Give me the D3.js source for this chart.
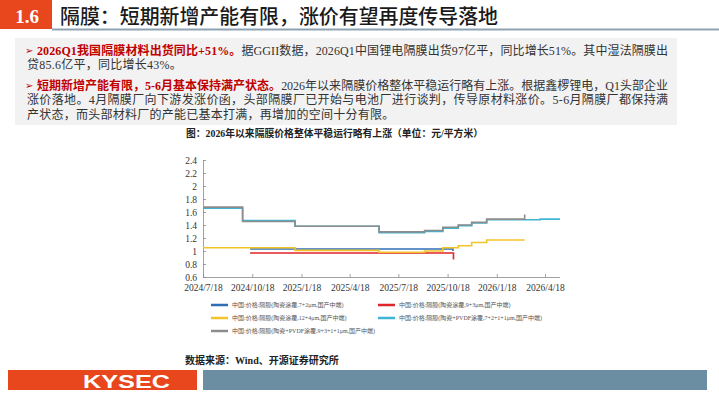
<!DOCTYPE html>
<html><head><meta charset="utf-8">
<script src="https://cdn.jsdelivr.net/npm/d3@7/dist/d3.min.js"></script>
<style>
html,body{margin:0;padding:0;background:#fff;}
svg{display:block;}
</style></head>
<body>
<svg id="c" width="719" height="405"></svg>
<script>
// ---------- data ----------
const yTicks = [0.6, 0.8, 1, 1.2, 1.4, 1.6, 1.8, 2, 2.2, 2.4];
const xTickDates = ["2024-07-18","2024-10-18","2025-01-18","2025-04-18","2025-07-18","2025-10-18","2026-01-18","2026-04-18"];
const xTickLabels = ["2024/7/18","2024/10/18","2025/1/18","2025/4/18","2025/7/18","2025/10/18","2026/1/18","2026/4/18"];
const xDomain = ["2024-07-18","2026-05-16"];

const seriesNames = [
  "中国:价格:隔膜(陶瓷涂覆,7+2μm,国产中端)",
  "中国:价格:隔膜(陶瓷涂覆,9+3μm,国产中端)",
  "中国:价格:隔膜(陶瓷涂覆,12+4μm,国产中端)",
  "中国:价格:隔膜(陶瓷+PVDF涂覆,7+2+1+1μm,国产中端)",
  "中国:价格:隔膜(陶瓷+PVDF涂覆,9+3+1+1μm,国产中端)"
];
const seriesColors = ["#2f6fb6","#e0262b","#f3c428","#3fb5d6","#8c8c8c"];

const c72Dates = ["2024-10-14","2025-10-28"];
const c72Values = [1.03, 1.00];
const c93Dates = ["2024-10-14","2025-10-29"];
const c93Values = [0.97, 0.87];
const c124Dates = ["2024-07-18","2025-01-06","2025-06-12","2025-09-05","2025-10-09","2025-11-07","2025-12-02","2025-12-30","2026-03-11"];
const c124Values = [1.05, 1.01, 0.98, 1.00, 1.05, 1.08, 1.13, 1.17, 1.17];
const p7211Dates = ["2024-07-18","2024-09-30","2025-01-06","2025-06-12","2025-09-05","2025-10-09","2025-11-07","2025-12-02","2025-12-30","2026-04-09","2026-05-16"];
const p7211Values = [1.66, 1.47, 1.38, 1.28, 1.30, 1.35, 1.39, 1.43, 1.48, 1.49, 1.49];
const p9311Dates = ["2024-07-18","2024-09-30","2025-01-06","2025-06-12","2025-09-05","2025-10-09","2025-11-07","2025-12-02","2025-12-30","2026-03-11"];
const p9311Values = [1.675, 1.455, 1.38, 1.295, 1.315, 1.365, 1.40, 1.44, 1.49, 1.56];

// ---------- text ----------
const titleNum = "1.6";
const titleText = "隔膜：短期新增产能有限，涨价有望再度传导落地";
const chartTitle = "图：2026年以来隔膜价格整体平稳运行略有上涨（单位：元/平方米）";
const sourceText = "数据来源：Wind、开源证券研究所";

const svg = d3.select("#c");
const CJK = "'Liberation Serif','Noto Sans CJK SC',serif";

// header
svg.append("rect").attr("x",0).attr("y",0).attr("width",52).attr("height",29).attr("fill","#e8461c");
svg.append("text").attr("x",27).attr("y",22.5).attr("text-anchor","middle")
  .attr("font-family","'Liberation Serif',serif").attr("font-weight","bold").attr("font-size",19)
  .attr("fill","#fff").text(titleNum);
svg.append("text").attr("x",60).attr("y",23.5)
  .attr("font-family","'Noto Sans CJK SC',sans-serif").attr("font-weight",500).attr("font-size",20)
  .attr("fill","#1a1a1a").attr("textLength",438).attr("lengthAdjust","spacingAndGlyphs").text(titleText);
svg.append("rect").attr("x",52).attr("y",28.5).attr("width",667).attr("height",2).attr("fill","#8da3b3");

// gray box
svg.append("rect").attr("x",15).attr("y",38).attr("width",662).attr("height",87).attr("fill","#f2f2f2");

const red = "#c00000", body = "#333";
const lines = [
  {y:50.5, bullet:true, x:37, len:631, parts:[["2026Q1我国隔膜材料出货同比+51%。",true],["据GGII数据，2026Q1中国锂电隔膜出货97亿平，同比增长51%。其中湿法隔膜出",false]]},
  {y:64.5, bullet:false, x:27, len:null, parts:[["贷85.6亿平，同比增长43%。",false]]},
  {y:85.5, bullet:true, x:37, len:631, parts:[["短期新增产能有限，5-6月基本保持满产状态。",true],["2026年以来隔膜价格整体平稳运行略有上涨。根据鑫椤锂电，Q1头部企业",false]]},
  {y:100, bullet:false, x:27, len:641, parts:[["涨价落地。4月隔膜厂向下游发涨价函，头部隔膜厂已开始与电池厂进行谈判，传导原材料涨价。5-6月隔膜厂都保持满",false]]},
  {y:114.5, bullet:false, x:27, len:null, parts:[["产状态，而头部材料厂的产能已基本打满，再增加的空间十分有限。",false]]}
];
lines.forEach(l => {
  if (l.bullet) {
    svg.append("text").attr("x",25).attr("y",l.y).attr("dominant-baseline","central")
      .attr("font-family","'DejaVu Sans',sans-serif").attr("font-size",10).attr("fill",red).text("➢");
  }
  const t = svg.append("text").attr("x",l.x).attr("y",l.y).attr("dominant-baseline","central")
    .attr("font-family",CJK).attr("font-size",12).attr("fill",body);
  if (l.len) t.attr("textLength",l.len).attr("lengthAdjust","spacing");
  else t.attr("letter-spacing",0.25);
  l.parts.forEach(p => {
    const s = t.append("tspan").text(p[0]);
    if (p[1]) s.attr("fill",red).attr("font-weight","bold");
  });
});

// chart title
svg.append("text").attr("x",186).attr("y",133).attr("dominant-baseline","central")
  .attr("font-family",CJK).attr("font-weight","bold").attr("font-size",10).attr("fill","#222")
  .attr("textLength",297).attr("lengthAdjust","spacingAndGlyphs").text(chartTitle);

// ---------- chart ----------
const parse = d3.utcParse("%Y-%m-%d");
const x = d3.scaleUtc().domain(xDomain.map(parse)).range([203,560]);
const y = d3.scaleLinear().domain([0.6,2.4]).range([277,160]);

const axisColor = "#8a8a8a";
const gy = svg.append("g").attr("transform","translate(203,0)")
  .call(d3.axisLeft(y).tickValues(yTicks).tickSizeInner(-3).tickSizeOuter(0).tickPadding(6).tickFormat(d3.format("~g")));
const gx = svg.append("g").attr("transform","translate(0,277)")
  .call(d3.axisBottom(x).tickValues(xTickDates.map(parse)).tickSizeInner(-3).tickSizeOuter(0).tickPadding(7)
    .tickFormat((d,i)=>xTickLabels[i]));
[gx,gy].forEach(g=>{
  g.selectAll("path,line").attr("stroke",axisColor).attr("stroke-width",0.8);
  g.selectAll("text").attr("font-family","'Liberation Serif',serif").attr("font-size",9.5).attr("fill","#333");
});
gx.select(".domain").attr("d","M203,0.5H560");
gy.select(".domain").attr("d","M0.5,277V160");
gy.selectAll("text").attr("dy","0.32em");

const seriesData = [
  [c72Dates,c72Values],[c93Dates,c93Values],[c124Dates,c124Values],[p7211Dates,p7211Values],[p9311Dates,p9311Values]
];
const line = d3.line().x(d=>x(d[0])).y(d=>y(d[1])).curve(d3.curveStepAfter);
seriesData.forEach((s,i)=>{
  const pts = s[0].map((d,j)=>[parse(d), s[1][j]]);
  svg.append("path").attr("d",line(pts)).attr("fill","none")
    .attr("stroke",seriesColors[i]).attr("stroke-width",1.6);
});

// legend
const legendPos = [[211,305],[378,305],[211,318],[378,318],[211,331]];
seriesNames.forEach((n,i)=>{
  const [lx,ly] = legendPos[i];
  svg.append("line").attr("x1",lx).attr("x2",lx+17).attr("y1",ly).attr("y2",ly)
    .attr("stroke",seriesColors[i]).attr("stroke-width",2.5);
  svg.append("text").attr("x",lx+21).attr("y",ly).attr("dominant-baseline","central")
    .attr("font-family",CJK).attr("font-size",6).attr("fill","#555").text(n);
});

// source
svg.append("text").attr("x",185).attr("y",360.5).attr("dominant-baseline","central")
  .attr("font-family",CJK).attr("font-weight","bold").attr("font-size",10).attr("fill","#222").text(sourceText);

// footer
svg.append("rect").attr("x",8).attr("y",370).attr("width",189).attr("height",20).attr("fill","#e8461c");
svg.append("rect").attr("x",203).attr("y",370).attr("width",504).attr("height",20).attr("fill","#6b8ea3");
svg.append("text").attr("x",83).attr("y",388.3)
  .attr("font-family","'Liberation Sans',Arial,sans-serif").attr("font-weight","bold").attr("font-size",17.5)
  .attr("fill","#fff").attr("textLength",87).attr("lengthAdjust","spacingAndGlyphs").text("KYSEC");
</script>
</body></html>
